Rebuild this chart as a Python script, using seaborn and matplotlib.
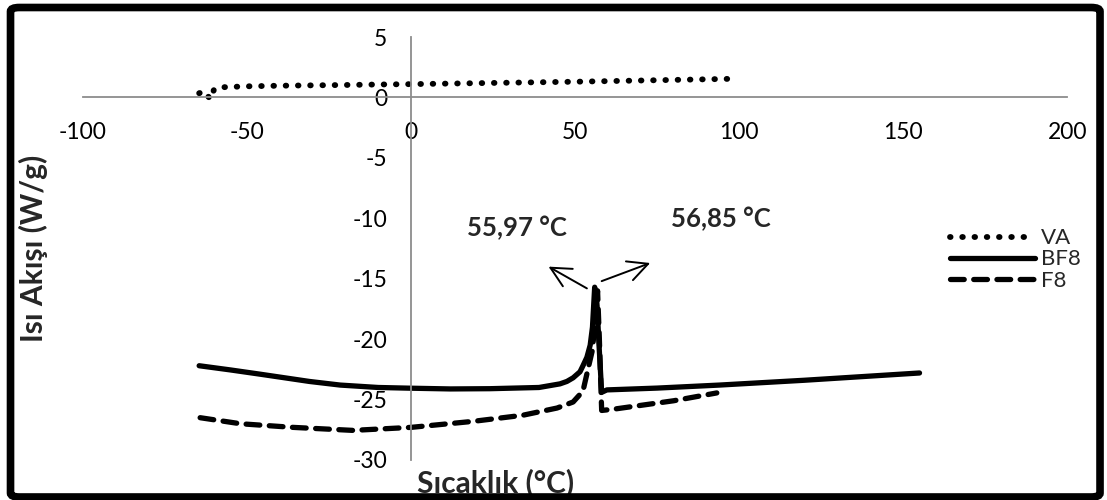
import matplotlib
matplotlib.use("Agg")
import numpy as np
import pandas as pd
import seaborn as sns
from matplotlib import pyplot as plt
from matplotlib.patches import FancyBboxPatch

# VA (dotted)
va_x = [-64.6, -63.0, -61.2, -60.0, -57.0, -50, -40, -30, -20, -10, 0, 10, 20, 30, 40, 50, 60, 70, 80, 90, 99.5]
va_y = [0.35, 0.5, -0.15, 0.7, 0.85, 0.92, 0.97, 1.0, 1.03, 1.07, 1.1, 1.14, 1.18, 1.22, 1.26, 1.3, 1.35, 1.4, 1.45, 1.5, 1.55]

# BF8 (solid)
bf8_x = [-64.6, -55, -46, -31, -21.6, -10, 0, 12, 24, 39, 45.4, 47.5, 49.4, 51.5, 52.4, 53.6, 54.6, 55.3,
         55.97, 56.6, 57.3, 58.1, 59.7, 75, 94, 120, 155]
bf8_y = [-22.2, -22.55, -22.9, -23.5, -23.8, -24.0, -24.06, -24.12, -24.1, -24.0, -23.7, -23.5, -23.2, -22.7,
         -22.2, -21.5, -20.5, -19.0, -15.7, -16.8, -20.5, -24.4, -24.2, -24.05, -23.8, -23.4, -22.8]

# F8 (dashed)
f8_x = [-64.3, -52, -36, -17.7, 0, 19, 34, 44.5, 49.4, 52.4, 54.0, 55.2, 56.2, 56.85, 57.4, 58.1, 61.6, 80, 93.2]
f8_y = [-26.5, -27.0, -27.3, -27.55, -27.3, -26.8, -26.3, -25.7, -25.2, -24.3, -22.4, -21.0, -18.5, -16.0,
        -20.0, -25.9, -25.8, -25.1, -24.45]

x_ticks = [-100, -50, 0, 50, 100, 150, 200]
y_ticks = [5, 0, -5, -10, -15, -20, -25, -30]

sns.set_theme(style="white")
plt.rcParams['font.family'] = ['Lato', 'DejaVu Sans']
plt.rcParams['font.size'] = 16
plt.rcParams['axes.unicode_minus'] = False

fig = plt.figure(figsize=(11.07, 5.0), dpi=100)
ax = fig.add_axes([0.075, 0.08, 0.889, 0.846])

lw = 3.8
sns.lineplot(x=va_x, y=va_y, sort=False, estimator=None, color='black', lw=4.2,
             linestyle=(0, (0.1, 2.0)), dash_capstyle='round', label='VA', ax=ax)
sns.lineplot(x=bf8_x, y=bf8_y, sort=False, estimator=None, color='black', lw=lw,
             solid_capstyle='round', solid_joinstyle='round', label='BF8', ax=ax)
sns.lineplot(x=f8_x, y=f8_y, sort=False, estimator=None, color='black', lw=lw,
             linestyle=(0, (2.6, 1.8)), dash_capstyle='round', label='F8', ax=ax)

ax.set_xlim(-100, 200)
ax.set_ylim(-30, 5)
ax.set_xticks(x_ticks)
ax.set_yticks(y_ticks)

for side in ['top', 'right']:
    ax.spines[side].set_visible(False)
for side in ['left', 'bottom']:
    ax.spines[side].set_position('zero')
    ax.spines[side].set_color('#8c8c8c')
    ax.spines[side].set_linewidth(1.3)
ax.tick_params(axis='both', length=0, labelsize=16.5, colors='black')
ax.tick_params(axis='y', pad=17)
ax.tick_params(axis='x', pad=18)
ax.grid(False)

ax.set_xlabel('Sıcaklık (°C)', fontsize=21.5, fontweight='bold')
ax.set_ylabel('Isı Akışı (W/g)', fontsize=21.5, fontweight='bold')
ax.xaxis.set_label_coords(0.419, -0.02)
ax.yaxis.set_label_coords(-0.036, 0.5)

ax.text(32.3, -10.8, '55,97 °C', ha='center', va='center', fontsize=18.5, fontweight='bold')
ax.text(94.5, -10.05, '56,85 °C', ha='center', va='center', fontsize=18.5, fontweight='bold')
arrow = dict(arrowstyle='->', lw=1.4, color='black', mutation_scale=36, shrinkA=0, shrinkB=0)
ax.annotate('', xy=(41.9, -14.0), xytext=(53.6, -15.8), arrowprops=arrow)
ax.annotate('', xy=(72.9, -13.7), xytext=(58.1, -15.2), arrowprops=arrow)

leg = ax.legend(loc='center left', bbox_to_anchor=(0.872, 0.474), frameon=False, fontsize=16,
                handlelength=3.8, handletextpad=0.3, labelspacing=0.05, borderaxespad=0)

border = FancyBboxPatch((0.0095, 0.006), 0.9842, 0.979, boxstyle='round,pad=0,rounding_size=0.008',
                        transform=fig.transFigure, fill=False, edgecolor='black', lw=5.5, clip_on=False)
fig.patches.append(border)

fig.savefig('out.png', dpi=100)
